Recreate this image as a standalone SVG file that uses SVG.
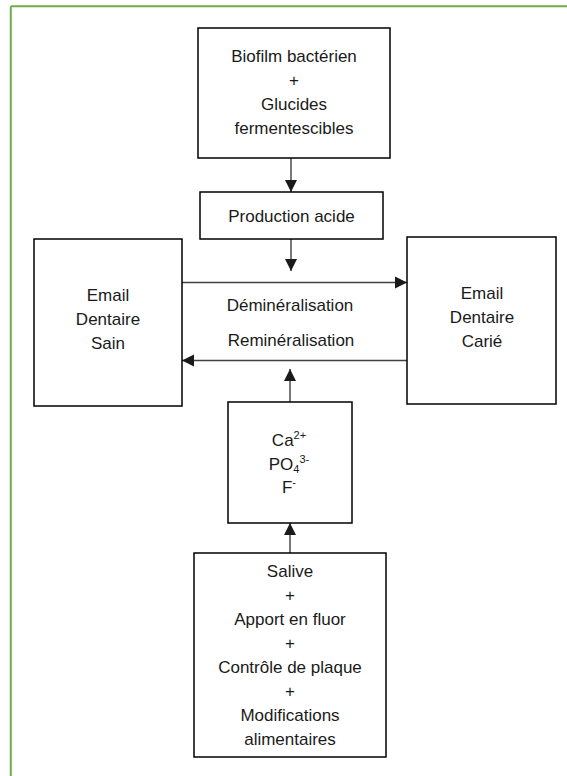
<svg xmlns="http://www.w3.org/2000/svg" width="567" height="776" viewBox="0 0 567 776">
  <style>
    .box { fill: #ffffff; stroke: #000000; stroke-width: 1.5; }
    .lbl { font-family: "Liberation Sans", Arial, sans-serif; font-size: 17px; fill: #1a1a1a; text-anchor: middle; }
    .conn { stroke: #404040; stroke-width: 1.4; fill: none; marker-end: url(#arrow); }
    .frame { stroke: #70ad47; stroke-width: 2; fill: none; }
    .sm { font-size: 11px; }
  </style>
  <defs>
    <marker id="arrow" markerUnits="userSpaceOnUse" markerWidth="13" markerHeight="13" refX="12" refY="6.5" orient="auto">
      <path d="M0,0.5 L12,6.5 L0,12.5 z" fill="#1a1a1a"/>
    </marker>
  </defs>
  <rect width="567" height="776" fill="#ffffff"/>
  <g id="frame">
    <line class="frame" x1="10.8" y1="6.3" x2="567" y2="6.3"/>
    <line class="frame" x1="10.8" y1="6.3" x2="10.8" y2="776"/>
  </g>

  <g id="connectors">
    <line class="conn" x1="291" y1="158" x2="291" y2="192"/>
    <line class="conn" x1="291" y1="239" x2="291" y2="271"/>
    <line class="conn" x1="182" y1="282.5" x2="407" y2="282.5"/>
    <line class="conn" x1="407" y1="360.5" x2="182" y2="360.5"/>
    <line class="conn" x1="290" y1="402" x2="290" y2="369"/>
    <line class="conn" x1="290" y1="553" x2="290" y2="523"/>
  </g>

  <g id="biofilm">
    <rect class="box" x="198" y="28" width="192" height="130"/>
    <text class="lbl" x="294" y="62">Biofilm bactérien</text>
    <text class="lbl" x="294" y="86">+</text>
    <text class="lbl" x="294" y="110">Glucides</text>
    <text class="lbl" x="294" y="134">fermentescibles</text>
  </g>

  <g id="production">
    <rect class="box" x="200" y="192" width="183" height="47"/>
    <text class="lbl" x="291.5" y="222">Production acide</text>
  </g>

  <g id="sain">
    <rect class="box" x="34" y="239" width="148" height="167"/>
    <text class="lbl" x="108" y="301">Email</text>
    <text class="lbl" x="108" y="325">Dentaire</text>
    <text class="lbl" x="108" y="349">Sain</text>
  </g>

  <g id="carie">
    <rect class="box" x="407" y="237" width="149" height="167"/>
    <text class="lbl" x="482" y="299">Email</text>
    <text class="lbl" x="482" y="323">Dentaire</text>
    <text class="lbl" x="482" y="347">Carié</text>
  </g>

  <g id="labels">
    <text class="lbl" x="290" y="311">Déminéralisation</text>
    <text class="lbl" x="291" y="346">Reminéralisation</text>
  </g>

  <g id="ions">
    <rect class="box" x="228" y="402" width="124" height="121"/>
    <text class="lbl" x="289" y="446">Ca<tspan class="sm" dy="-7">2+</tspan></text>
    <text class="lbl" x="289" y="470">PO<tspan class="sm" dy="3">4</tspan><tspan class="sm" dy="-10">3-</tspan></text>
    <text class="lbl" x="289" y="493">F<tspan class="sm" dy="-7">-</tspan></text>
  </g>

  <g id="facteurs">
    <rect class="box" x="194" y="553" width="192" height="204"/>
    <text class="lbl" x="290" y="577">Salive</text>
    <text class="lbl" x="290" y="601">+</text>
    <text class="lbl" x="290" y="625">Apport en fluor</text>
    <text class="lbl" x="290" y="649">+</text>
    <text class="lbl" x="290" y="673">Contrôle de plaque</text>
    <text class="lbl" x="290" y="697">+</text>
    <text class="lbl" x="290" y="721">Modifications</text>
    <text class="lbl" x="290" y="745">alimentaires</text>
  </g>
</svg>
